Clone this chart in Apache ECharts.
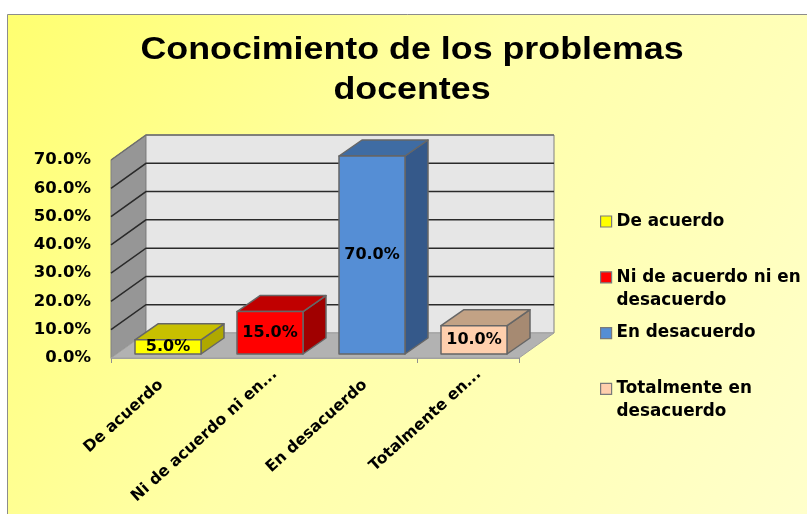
<!DOCTYPE html>
<html>
<head>
<meta charset="utf-8">
<style>html,body{margin:0;padding:0;background:#fff}#chart{width:807px;height:514px}</style>
<script src="https://cdn.jsdelivr.net/npm/echarts@6/dist/echarts.min.js"></script>
</head>
<body>
<div id="chart"></div>
<script>
const chartTitle = 'Conocimiento de los problemas\ndocentes'
const categories = ['De acuerdo', 'Ni de acuerdo ni en desacuerdo', 'En desacuerdo', 'Totalmente en desacuerdo']
const axisLabels = ['De acuerdo', 'Ni de acuerdo ni en...', 'En desacuerdo', 'Totalmente en...']
const legendLines = [['De acuerdo', ' '], ['Ni de acuerdo ni en', 'desacuerdo'], ['En desacuerdo', ' '], ['Totalmente en', 'desacuerdo']]
const values = [5, 15, 70, 10]
const yTicks = [0, 10, 20, 30, 40, 50, 60, 70]

const frontColors = ['#FFFF00', '#FF0000', '#558ED5', '#FFCFAD']
const topColors = ['#C8C000', '#C00000', '#3F6CA3', '#C2A285']
const sideColors = ['#AFA800', '#A00000', '#35598A', '#A68A72']

const FONT = '"DejaVu Sans", sans-serif'
// wall depth and bar placement in pixels
const WALL_DX = 35, WALL_DY = 25
const BAR_DX = 6, BAR_DY = 4, BAR_W = 66, DEPTH_DX = 23, DEPTH_DY = 16

function renderWall(params, api) {
  const tick = api.value(1)
  const p = api.coord([0, tick])
  const cs = params.coordSys
  const left = cs.x, right = cs.x + cs.width
  const y = p[1]
  const children = []
  if (tick === 0) {
    const top = api.coord([0, 70])[1]
    const wallStroke = { stroke: '#808080', lineWidth: 1 }
    children.push({
      type: 'polygon',
      shape: { points: [[left, y], [left + WALL_DX, y - WALL_DY], [left + WALL_DX, top - WALL_DY], [left, top]] },
      style: { fill: '#969696', ...wallStroke }
    }, {
      type: 'rect',
      shape: { x: left + WALL_DX, y: top - WALL_DY, width: cs.width, height: y - top },
      style: { fill: '#E6E6E6', ...wallStroke }
    }, {
      type: 'polygon',
      shape: { points: [[left, y], [right, y], [right + WALL_DX, y - WALL_DY], [left + WALL_DX, y - WALL_DY]] },
      style: { fill: '#B2B2B2', stroke: '#A0A0A0', lineWidth: 1 }
    })
  } else {
    // gridlines, the top one is the lighter edge of the walls
    children.push({
      type: 'polyline',
      shape: { points: [[left, y], [left + WALL_DX, y - WALL_DY], [right + WALL_DX, y - WALL_DY]] },
      style: { fill: null, stroke: tick < 70 ? '#2A2A2A' : '#6E6E6E', lineWidth: 1.5 }
    })
  }
  return { type: 'group', children }
}

function makeBarRenderer(idx) {
  return function (params, api) {
    const base = api.coord([idx, 0])
    const head = api.coord([idx, api.value(1)])
    const x0 = base[0] - BAR_W / 2 + BAR_DX
    const x1 = x0 + BAR_W
    const yb = base[1] - BAR_DY
    const yt = head[1] - BAR_DY
    const edge = { stroke: '#666666', lineWidth: 1.5, lineJoin: 'round' }
    return {
      type: 'group',
      children: [
        {
          type: 'polygon',
          shape: { points: [[x1, yt], [x1 + DEPTH_DX, yt - DEPTH_DY], [x1 + DEPTH_DX, yb - DEPTH_DY], [x1, yb]] },
          style: { fill: sideColors[idx], ...edge }
        },
        {
          type: 'polygon',
          shape: { points: [[x0, yt], [x0 + DEPTH_DX, yt - DEPTH_DY], [x1 + DEPTH_DX, yt - DEPTH_DY], [x1, yt]] },
          style: { fill: topColors[idx], ...edge }
        },
        {
          type: 'rect',
          shape: { x: x0, y: yt, width: BAR_W, height: yb - yt },
          style: { fill: frontColors[idx], ...edge }
        },
        {
          type: 'text',
          style: {
            x: (x0 + x1) / 2, y: (yt + yb) / 2,
            text: api.value(1).toFixed(1) + '%',
            align: 'center', verticalAlign: 'middle',
            font: 'bold 16px ' + FONT, fill: '#000'
          }
        }
      ]
    }
  }
}

const series = [{
  type: 'custom',
  silent: true,
  renderItem: renderWall,
  clip: false,
  data: yTicks.map(t => [0, t]),
  z: 1
}]

categories.forEach((name, i) => {
  series.push({
    name,
    type: 'custom',
    renderItem: makeBarRenderer(i),
    clip: false,
    itemStyle: { color: frontColors[i] },
    data: [[i, values[i]]],
    z: 2
  })
})

const chart = echarts.init(document.getElementById('chart'))
chart.setOption({
  animation: false,
  backgroundColor: '#fff',
  textStyle: { fontFamily: FONT },
  graphic: [{
    type: 'rect',
    z: -10,
    silent: true,
    shape: { x: 7.5, y: 14.5, width: 810, height: 510 },
    style: {
      stroke: '#8C8C8C', lineWidth: 1,
      fill: new echarts.graphic.LinearGradient(0, 0, 1, 1, [
        { offset: 0, color: '#FFFF70' },
        { offset: 0.45, color: '#FFFFA8' },
        { offset: 1, color: '#FFFFCC' }
      ])
    }
  }, {
    // title is stretched sideways in the original, the title component can't do that
    type: 'text',
    x: 412, y: 30.5,
    scaleX: 1.155,
    silent: true,
    style: {
      text: chartTitle,
      align: 'center',
      font: 'bold 31px "Liberation Sans", Arial, sans-serif',
      lineHeight: 40,
      fill: '#000'
    }
  }],
  legend: {
    orient: 'vertical',
    left: 600, top: 187,
    itemWidth: 11, itemHeight: 11, itemGap: -13.2,
    padding: 0,
    selectedMode: false,
    data: categories.map((name, i) => ({
      name,
      icon: 'rect',
      itemStyle: { color: frontColors[i], borderColor: '#7A7A7A', borderWidth: 1.2 }
    })),
    formatter: name => {
      const lines = legendLines[categories.indexOf(name)]
      return ' \n' + lines[0] + '\n' + lines[1]
    },
    textStyle: { fontFamily: FONT, fontSize: 16.8, fontWeight: 'bold', color: '#000', lineHeight: 23 }
  },
  // second grid only carries the rotated labels, a bit to the right of the ticks
  grid: [
    { left: 111, top: 160, width: 408, height: 198 },
    { left: 122, top: 160, width: 408, height: 198 }
  ],
  xAxis: [{
    type: 'category',
    data: categories,
    axisLine: { lineStyle: { color: '#A0A0A0', width: 1 } },
    axisTick: { show: true, length: 5, lineStyle: { color: '#909090' } },
    axisLabel: { show: false }
  }, {
    type: 'category',
    gridIndex: 1,
    data: categories,
    axisLine: { show: false },
    axisTick: { show: false },
    axisLabel: {
      interval: 0,
      rotate: 42,
      margin: 14,
      formatter: (name, i) => {
        const s = axisLabels[i]
        return s.endsWith('...') ? `{cut|${s}}` : `{full|${s}}`
      },
      rich: {
        cut: { fontFamily: FONT, fontSize: 15.7, fontWeight: 'bold', color: '#000' },
        full: { fontFamily: FONT, fontSize: 15.7, fontWeight: 'bold', color: '#000', padding: [0, 16, 0, 0] }
      }
    }
  }],
  yAxis: [{
    type: 'value',
    min: 0, max: 70, interval: 10,
    axisLine: { show: false },
    axisTick: { show: false },
    splitLine: { show: false },
    axisLabel: {
      margin: 20,
      formatter: v => v.toFixed(1) + '%',
      fontFamily: FONT, fontSize: 16.5, fontWeight: 'bold', color: '#000'
    }
  }, {
    type: 'value',
    gridIndex: 1,
    show: false
  }],
  series
})
</script>
</body>
</html>
